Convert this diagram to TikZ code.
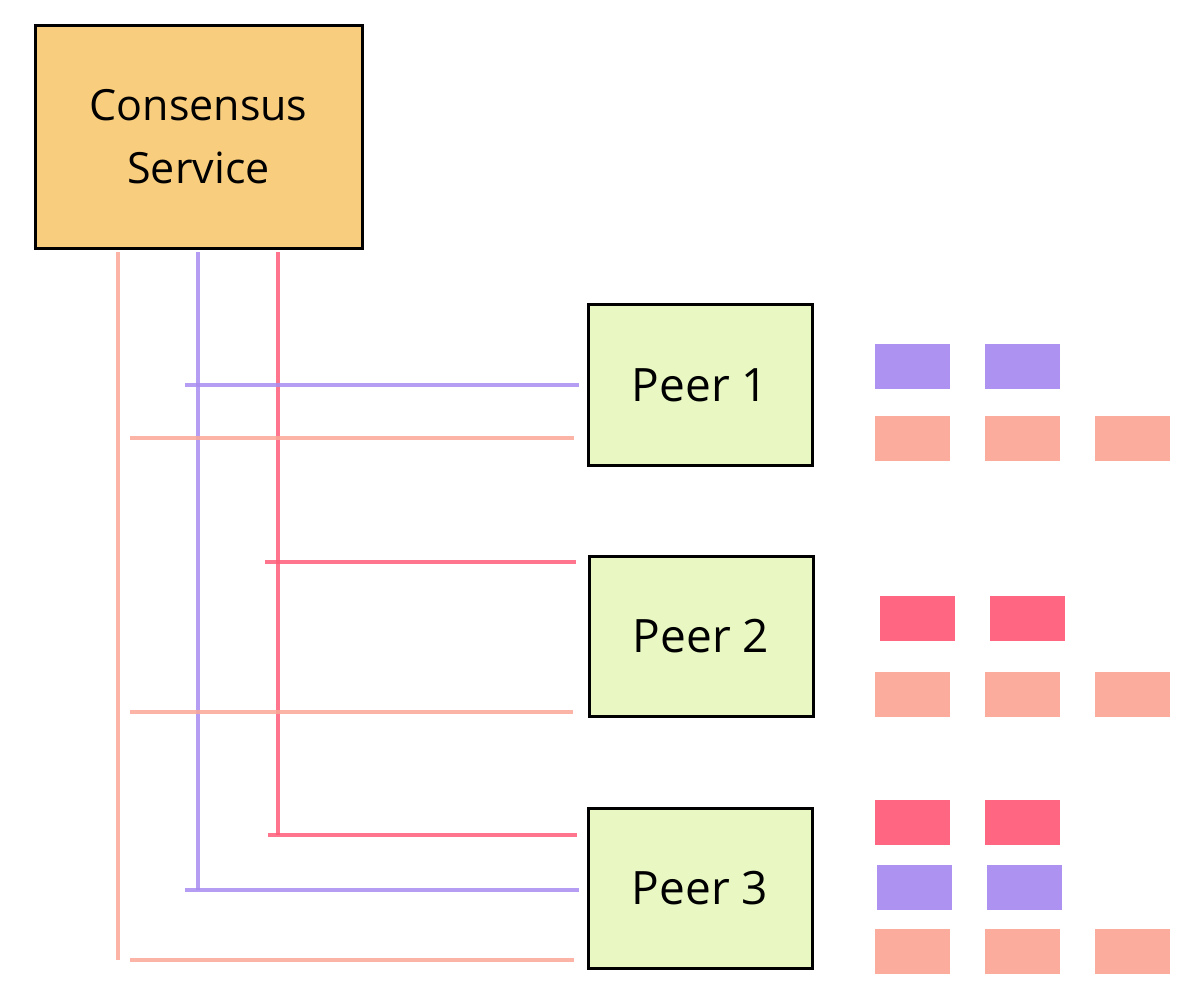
\documentclass[tikz,border=0pt]{standalone}
\usepackage{fontspec}
\setmainfont{Open Sans}
\definecolor{csfill}{HTML}{F9CD7E}
\definecolor{peerfill}{HTML}{E9F8C2}
\definecolor{lpurple}{HTML}{A98DF1}
\definecolor{lsalmon}{HTML}{FBA897}
\definecolor{lred}{HTML}{FF5E7B}
\tikzset{
  box/.style={draw=black, line width=3pt, inner sep=0pt, align=center},
  csbox/.style={box, fill=csfill, minimum width=327pt, minimum height=223pt, font=\fontsize{43}{63}\selectfont},
  peerbox/.style={box, fill=peerfill, minimum width=224pt, minimum height=160pt, font=\fontsize{46}{60}\selectfont},
  wire/.style={line width=3.4pt, opacity=0.85},
  chip/.style={inner sep=0pt, minimum width=75pt, minimum height=45pt, draw=none, opacity=0.95},
}
\begin{document}
\begin{tikzpicture}[x=1pt, y=-1pt]
\useasboundingbox (0,0) rectangle (1192,992);
\fill[white] (0,0) rectangle (1192,992);

\node[csbox] (cs) at (198.5,137) {Consensus\\Service};
\node[peerbox] (p1) at (700,385) {Peer 1};
\node[peerbox] (p2) at (701,636.5) {Peer 2};
\node[peerbox] (p3) at (700,888) {Peer 3};

% bus coordinates
\coordinate (sTop) at (118,252);
\coordinate (uTop) at (198,252);
\coordinate (rTop) at (278,252);
\coordinate (sEnd) at (118,960);
\coordinate (uEnd) at (198,890);
\coordinate (rEnd) at (278,835);

\coordinate (u1) at (185,385);
\coordinate (s1) at (130,438);
\coordinate (r2) at (265,562);
\coordinate (s2) at (130,712);
\coordinate (r3) at (268,835);
\coordinate (u3) at (185,890);
\coordinate (s3) at (130,960);

% verticals
\draw[wire, lsalmon] (sTop) -- (sEnd);
\draw[wire, lpurple] (uTop) -- (uEnd);
\draw[wire, lred] (rTop) -- (rEnd);

% horizontals
\draw[wire, lpurple, shorten >=8pt] (u1) -- (u1 -| p1.west);
\draw[wire, lsalmon, shorten >=13pt] (s1) -- (s1 -| p1.west);
\draw[wire, lred, shorten >=12pt] (r2) -- (r2 -| p2.west);
\draw[wire, lsalmon, shorten >=15pt] (s2) -- (s2 -| p2.west);
\draw[wire, lred, shorten >=10pt] (r3) -- (r3 -| p3.west);
\draw[wire, lpurple, shorten >=8pt] (u3) -- (u3 -| p3.west);
\draw[wire, lsalmon, shorten >=13pt] (s3) -- (s3 -| p3.west);

% chips peer 1
\node[chip, fill=lpurple] (a11) at (912,367) {};
\node[chip, fill=lpurple] (a12) at (1022,367) {};
\node[chip, fill=lsalmon] (b11) at (912,438) {};
\node[chip, fill=lsalmon] (b12) at (1022,438) {};
\node[chip, fill=lsalmon] (b13) at (1132,438) {};
% chips peer 2
\node[chip, fill=lred] (a21) at (917,618) {};
\node[chip, fill=lred] (a22) at (1027,618) {};
\node[chip, fill=lsalmon] (b21) at (912,694) {};
\node[chip, fill=lsalmon] (b22) at (1022,694) {};
\node[chip, fill=lsalmon] (b23) at (1132,694) {};
% chips peer 3
\node[chip, fill=lred] (a31) at (912,822) {};
\node[chip, fill=lred] (a32) at (1022,822) {};
\node[chip, fill=lpurple] (c31) at (914,887) {};
\node[chip, fill=lpurple] (c32) at (1024,887) {};
\node[chip, fill=lsalmon] (b31) at (912,951) {};
\node[chip, fill=lsalmon] (b32) at (1022,951) {};
\node[chip, fill=lsalmon] (b33) at (1132,951) {};
\end{tikzpicture}
\end{document}
